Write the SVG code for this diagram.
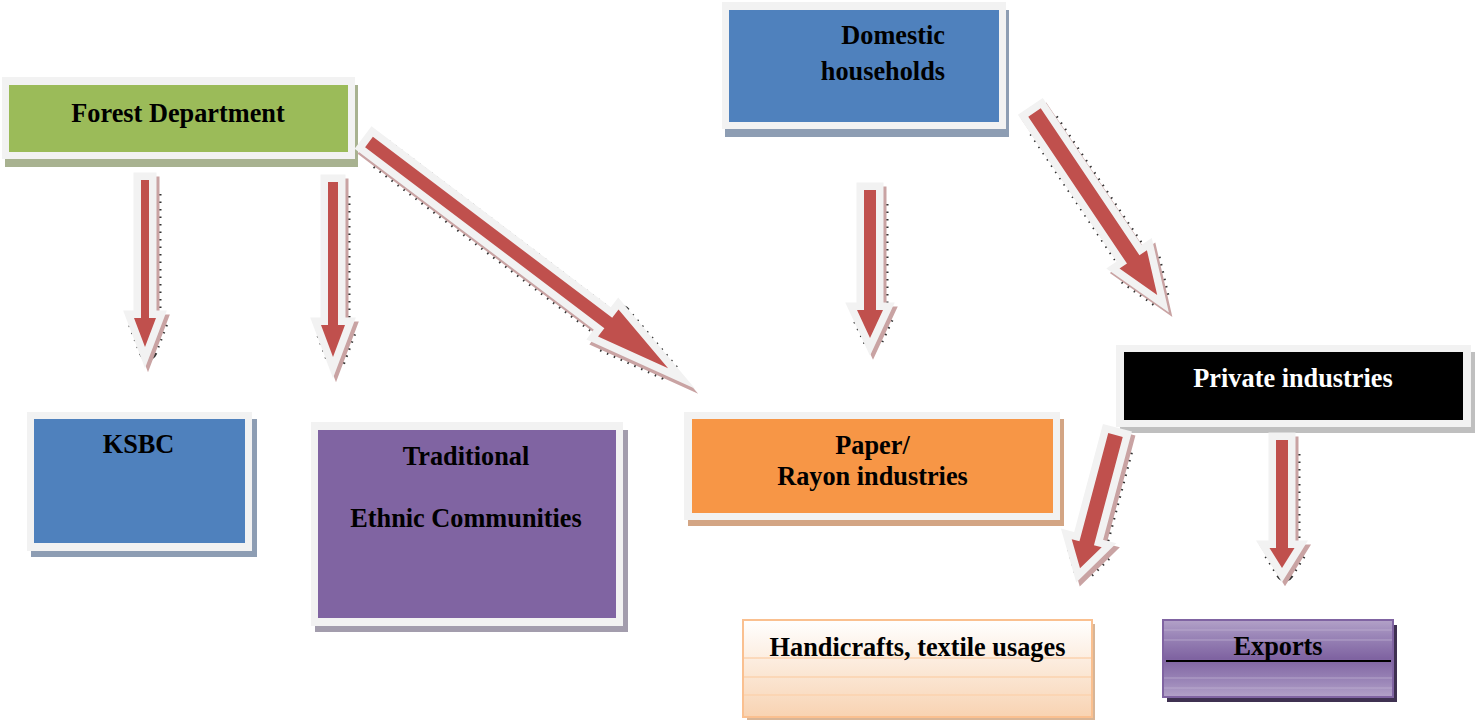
<svg xmlns="http://www.w3.org/2000/svg" width="1476" height="723" viewBox="0 0 1476 723">
<defs>
<style>
.frame{fill:#f2f2f2}
.t{font-family:"Liberation Serif","Times New Roman",serif;font-weight:bold;font-size:26.3px;fill:#000;text-anchor:middle}
.dots{fill:none;stroke:#333;stroke-width:19;stroke-dasharray:1.5 6;stroke-linejoin:round}
.ash{fill:#c9a3a3;stroke:#c9a3a3;stroke-width:15;stroke-linejoin:miter;stroke-miterlimit:10}
.aout{fill:#f2f2f2;stroke:#f2f2f2;stroke-width:15;stroke-linejoin:miter;stroke-miterlimit:10}
.ared{fill:#c0504d}
</style>
<linearGradient id="gHand" x1="0" y1="0" x2="0" y2="1">
<stop offset="0" stop-color="#ffffff"/>
<stop offset="1" stop-color="#f8d3b2"/>
</linearGradient>
<linearGradient id="gExp" x1="0" y1="0" x2="0" y2="1">
<stop offset="0" stop-color="#b3a2c8"/>
<stop offset="0.2" stop-color="#9b86b8"/>
<stop offset="0.5" stop-color="#7f63a1"/>
<stop offset="0.8" stop-color="#9b86b8"/>
<stop offset="1" stop-color="#b3a2c8"/>
</linearGradient>
<path id="p1" d="M0,-4 L138,-4 L138,-11 L167,0 L138,11 L138,4 L0,4 Z"/>
<path id="p2" d="M0,-5 L143,-5 L143,-12 L175,0 L143,12 L143,5 L0,5 Z"/>
<path id="p3" d="M0,-6.5 L300,-6.5 L300,-17 L375,0 L300,17 L300,6.5 L0,6.5 Z"/>
<path id="p4" d="M0,-6 L120,-6 L120,-13 L148,0 L120,13 L120,6 L0,6 Z"/>
<path id="p5" d="M0,-7.5 L177,-7.5 L177,-16.5 L220,0 L177,16.5 L177,7.5 L0,7.5 Z"/>
<path id="p6" d="M0,-7.5 L112,-7.5 L112,-15.5 L138,0 L112,15.5 L112,7.5 L0,7.5 Z"/>
<path id="p7" d="M0,-6 L108,-6 L108,-12.5 L128,0 L108,12.5 L108,6 L0,6 Z"/>
<path id="d1" d="M10,-4 L138,-4 L138,-11 L167,0 L138,11 L138,4 L10,4"/>
<path id="d2" d="M10,-5 L143,-5 L143,-12 L175,0 L143,12 L143,5 L10,5"/>
<path id="d3" d="M10,-6.5 L300,-6.5 L300,-17 L375,0 L300,17 L300,6.5 L10,6.5"/>
<path id="d4" d="M10,-6 L120,-6 L120,-13 L148,0 L120,13 L120,6 L10,6"/>
<path id="d5" d="M10,-7.5 L177,-7.5 L177,-16.5 L220,0 L177,16.5 L177,7.5 L10,7.5"/>
<path id="d6" d="M10,-7.5 L112,-7.5 L112,-15.5 L138,0 L112,15.5 L112,7.5 L10,7.5"/>
<path id="d7" d="M10,-6 L108,-6 L108,-12.5 L128,0 L108,12.5 L108,6 L10,6"/>
</defs>
<rect width="1476" height="723" fill="#ffffff"/>

<g id="forest-department">
<rect x="5" y="85" width="353" height="82" fill="#a8b290"/>
<rect class="frame" x="2" y="77" width="353" height="82"/>
<rect x="9" y="85" width="339" height="67" fill="#9bbb59"/>
<text class="t" x="178" y="122">Forest Department</text>
</g>

<g id="domestic-households">
<rect x="725" y="10" width="284" height="127" fill="#8d9db3"/>
<rect class="frame" x="722" y="2" width="284" height="127"/>
<rect x="729" y="10" width="270" height="112" fill="#4f81bd"/>
<text class="t" x="945" y="44" style="text-anchor:end">Domestic</text>
<text class="t" x="945" y="80" style="text-anchor:end">households</text>
</g>

<g id="ksbc">
<rect x="31" y="419" width="226" height="138" fill="#8d9db3"/>
<rect class="frame" x="27" y="412" width="225" height="139"/>
<rect x="34" y="419" width="211" height="124" fill="#4f81bd"/>
<text class="t" x="138.5" y="453">KSBC</text>
</g>

<g id="traditional-ethnic-communities">
<rect x="315" y="430" width="313" height="202" fill="#a39dad"/>
<rect class="frame" x="311" y="422" width="312" height="204"/>
<rect x="318" y="430" width="298" height="188" fill="#8064a2"/>
<text class="t" x="466" y="465">Traditional</text>
<text class="t" x="466" y="527">Ethnic Communities</text>
</g>

<g id="paper-rayon-industries">
<rect x="688" y="419" width="376" height="107" fill="#d3a584"/>
<rect class="frame" x="684" y="412" width="376" height="108"/>
<rect x="692" y="419" width="361" height="94" fill="#f79646"/>
<text class="t" x="872.5" y="454">Paper/</text>
<text class="t" x="872.5" y="485">Rayon industries</text>
</g>

<g id="private-industries">
<rect x="1120" y="352" width="355" height="81" fill="#bfbfbf"/>
<rect class="frame" x="1116" y="345" width="355" height="82"/>
<rect x="1124" y="352" width="339" height="68" fill="#000000"/>
<text class="t" x="1293" y="387" style="fill:#ffffff">Private industries</text>
</g>

<g id="handicrafts-textile-usages">
<rect x="747" y="624" width="348" height="96" fill="#d8b596"/>
<rect x="743" y="620" width="349" height="97" fill="url(#gHand)" stroke="#fac090" stroke-width="2"/>
<g stroke="#fbd2ae" stroke-width="1.5">
<line x1="744" y1="658" x2="1091" y2="658"/>
<line x1="744" y1="677" x2="1091" y2="677"/>
<line x1="744" y1="695" x2="1091" y2="695"/>
</g>
<text class="t" x="917.5" y="656">Handicrafts, textile usages</text>
</g>

<g id="exports">
<rect x="1167" y="625" width="230" height="77" fill="#3f3151"/>
<rect x="1163" y="620" width="230" height="77" fill="url(#gExp)" stroke="#8064a2" stroke-width="2"/>
<g stroke="#c2b4d4" stroke-width="1.2" opacity="0.7">
<line x1="1164" y1="630" x2="1392" y2="630"/>
<line x1="1164" y1="640" x2="1392" y2="640"/>
<line x1="1164" y1="678" x2="1392" y2="678"/>
<line x1="1164" y1="688" x2="1392" y2="688"/>
</g>
<line x1="1166" y1="661" x2="1391" y2="661" stroke="#000" stroke-width="2"/>
<text class="t" x="1278" y="655">Exports</text>
</g>

<g id="connectors">
<g id="a1">
<g transform="translate(148,184) rotate(90)"><use href="#d1" class="dots"/><use href="#p1" class="ash"/></g>
<g transform="translate(145,180) rotate(90)"><use href="#p1" class="aout"/><use href="#p1" class="ared"/></g>
</g>
<g id="a2">
<g transform="translate(336,186) rotate(90)"><use href="#d2" class="dots"/><use href="#p2" class="ash"/></g>
<g transform="translate(333,182) rotate(90)"><use href="#p2" class="aout"/><use href="#p2" class="ared"/></g>
</g>
<g id="a3">
<g transform="translate(372,147) rotate(37.1)"><use href="#d3" class="dots"/><use href="#p3" class="ash"/></g>
<g transform="translate(369,142) rotate(37.1)"><use href="#p3" class="aout"/><use href="#p3" class="ared"/></g>
</g>
<g id="a4">
<g transform="translate(873,194) rotate(90)"><use href="#d4" class="dots"/><use href="#p4" class="ash"/></g>
<g transform="translate(870,190) rotate(90)"><use href="#p4" class="aout"/><use href="#p4" class="ared"/></g>
</g>
<g id="a5">
<g transform="translate(1038,117) rotate(56.1)"><use href="#d5" class="dots"/><use href="#p5" class="ash"/></g>
<g transform="translate(1034.5,112.5) rotate(56.1)"><use href="#p5" class="aout"/><use href="#p5" class="ared"/></g>
</g>
<g id="a6">
<g transform="translate(1119,439) rotate(104.9)"><use href="#d6" class="dots"/><use href="#p6" class="ash"/></g>
<g transform="translate(1115.5,435) rotate(104.9)"><use href="#p6" class="aout"/><use href="#p6" class="ared"/></g>
</g>
<g id="a7">
<g transform="translate(1285,444) rotate(90)"><use href="#d7" class="dots"/><use href="#p7" class="ash"/></g>
<g transform="translate(1282,440) rotate(90)"><use href="#p7" class="aout"/><use href="#p7" class="ared"/></g>
</g>
</g>
</svg>
